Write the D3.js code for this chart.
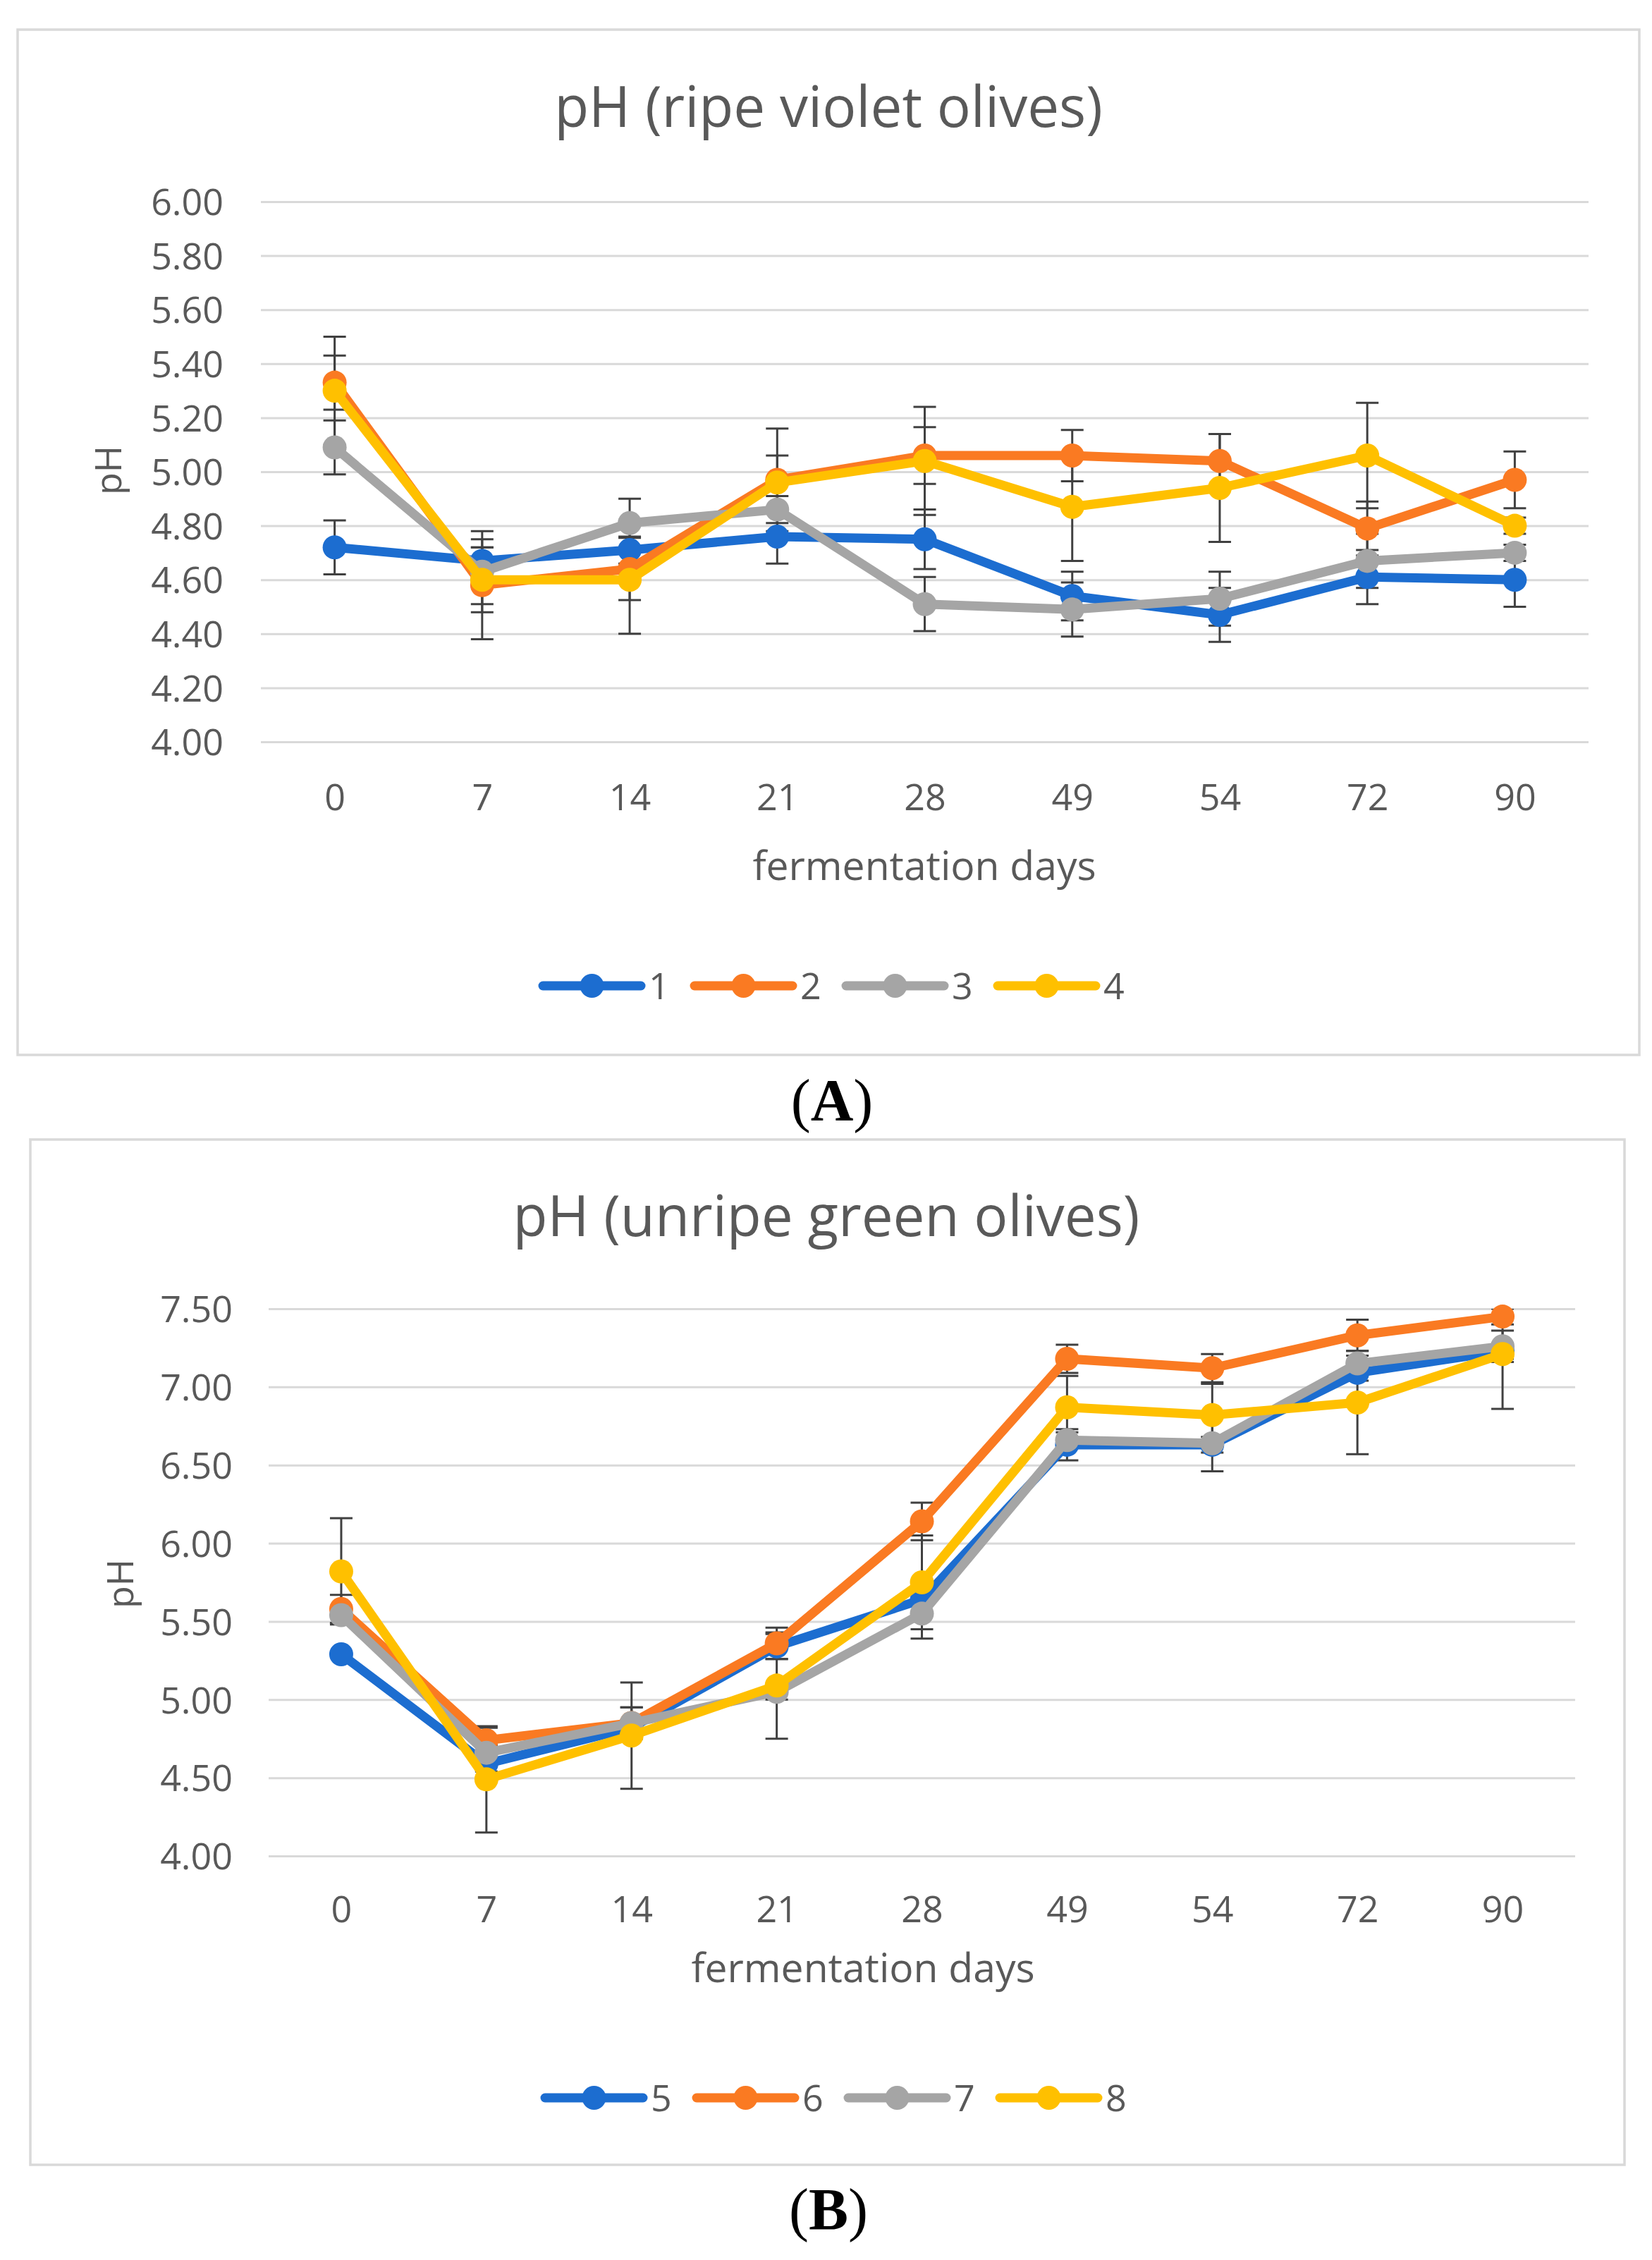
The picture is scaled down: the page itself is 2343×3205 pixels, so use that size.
<!DOCTYPE html>
<html><head><meta charset="utf-8">
<script src="https://cdn.jsdelivr.net/npm/d3@7/dist/d3.min.js"></script>
<style>body{margin:0;background:#fff}svg{display:block}</style>
</head><body><svg id="c" width="2343" height="3205"></svg>
<script>
// ---------- data ----------
const days = ["0","7","14","21","28","49","54","72","90"];
const yTicksA = [4.00,4.20,4.40,4.60,4.80,5.00,5.20,5.40,5.60,5.80,6.00];
const yTicksB = [4.00,4.50,5.00,5.50,6.00,6.50,7.00,7.50];
const namesA = ["1","2","3","4"];
const namesB = ["5","6","7","8"];
const colors = ["#1c6dd0","#fa7a22","#a5a5a5","#ffc000"];

const a1 = [4.72,4.67,4.71,4.76,4.75,4.54,4.47,4.61,4.60];
const a2 = [5.33,4.58,4.64,4.97,5.06,5.06,5.04,4.79,4.97];
const a3 = [5.09,4.63,4.81,4.86,4.51,4.49,4.53,4.67,4.70];
const a4 = [5.30,4.60,4.60,4.96,5.04,4.87,4.94,5.06,4.80];
const errA1 = [0.10,0.05,0.05,0.10,0.11,0.09,0.10,0.10,0.10];
const errA2 = [0.10,0.20,0.115,0.19,0.105,0.095,0.10,0.10,0.105];
const errA3 = [0.10,0.12,0.09,0.05,0.10,0.10,0.10,0.10,0.03];
const errA4 = [0.20,0.12,0.20,0.10,0.20,0.20,0.20,0.195,0.03];

const b5 = [5.29,4.59,4.82,5.34,5.64,6.63,6.63,7.09,7.23];
const b6 = [5.58,4.74,4.85,5.36,6.14,7.18,7.12,7.33,7.45];
const b7 = [5.54,4.66,4.85,5.05,5.55,6.66,6.64,7.15,7.26];
const b8 = [5.82,4.49,4.77,5.09,5.75,6.87,6.82,6.90,7.21];
const errB5 = [0.02,0.05,0.05,0.08,0.08,0.10,0.05,0.05,0.05];
const errB6 = [0.09,0.08,0.10,0.10,0.12,0.09,0.09,0.10,0.05];
const errB7 = [0.05,0.05,0.10,0.05,0.16,0.05,0.18,0.05,0.10];
const errB8 = [0.34,0.34,0.34,0.34,0.30,0.20,0.20,0.33,0.35];

// ---------- drawing ----------
const FONT = "'Open Sans', 'Segoe UI', sans-serif";
const TXT = "#595959";
const svg = d3.select("#c");

function panel(c) {
  const g = svg.append("g");
  g.append("rect").attr("x", c.box[0]).attr("y", c.box[1])
    .attr("width", c.box[2]).attr("height", c.box[3])
    .attr("fill", "#fff").attr("stroke", "#d9d9d9").attr("stroke-width", 3.5);

  const x = d3.scalePoint().domain(days).range([c.x0, c.x1]).padding(0.5);
  const y = d3.scaleLinear().domain(c.domain).range([c.yBot, c.yTop]);

  // y axis + gridlines
  const ya = d3.axisLeft(y).tickValues(c.ticks).tickFormat(d3.format(".2f"))
    .tickSizeInner(-(c.x1 - c.x0)).tickSizeOuter(0).tickPadding(c.x0 - c.labelRight);
  const yg = g.append("g").attr("transform", `translate(${c.x0},0)`).call(ya)
    .attr("font-family", FONT).attr("font-size", 52);
  yg.select(".domain").remove();
  yg.selectAll(".tick line").attr("stroke", "#d9d9d9").attr("stroke-width", 3);
  yg.selectAll(".tick text").attr("fill", TXT).attr("dy", "0.36em");

  // x axis labels
  const xa = d3.axisBottom(x).tickSize(0);
  const xg = g.append("g").attr("transform", `translate(0,${c.yBot})`).call(xa)
    .attr("font-family", FONT).attr("font-size", 52);
  xg.select(".domain").remove();
  xg.selectAll(".tick text").attr("fill", TXT).attr("y", c.xLabelBase - c.yBot).attr("dy", null);

  // error bars (clipped to plot area)
  const clipId = "clip" + c.id;
  svg.append("defs").append("clipPath").attr("id", clipId).append("rect")
    .attr("x", c.x0 - 60).attr("y", c.yTop).attr("width", c.x1 - c.x0 + 120).attr("height", c.yBot - c.yTop);
  const eg = g.append("g").attr("clip-path", `url(#${clipId})`)
    .attr("stroke", "#404040").attr("stroke-width", 3);
  c.series.forEach(s => {
    s.vals.forEach((v, i) => {
      const cx = x(days[i]), e = s.err[i];
      const yt = y(v + e), yb = y(v - e);
      eg.append("line").attr("x1", cx).attr("x2", cx).attr("y1", yt).attr("y2", yb);
      eg.append("line").attr("x1", cx - 16).attr("x2", cx + 16).attr("y1", yt).attr("y2", yt);
      eg.append("line").attr("x1", cx - 16).attr("x2", cx + 16).attr("y1", yb).attr("y2", yb);
    });
  });

  // lines and markers
  const line = d3.line().x((d, i) => x(days[i])).y(d => y(d));
  c.series.forEach((s, k) => {
    g.append("path").datum(s.vals).attr("d", line).attr("fill", "none")
      .attr("stroke", colors[k]).attr("stroke-width", 13)
      .attr("stroke-linejoin", "round").attr("stroke-linecap", "round");
    g.append("g").selectAll("circle").data(s.vals).join("circle")
      .attr("cx", (d, i) => x(days[i])).attr("cy", d => y(d)).attr("r", 17)
      .attr("fill", colors[k]);
  });

  // title
  g.append("text").attr("x", c.titleX).attr("y", c.titleY).attr("text-anchor", "middle")
    .attr("font-family", FONT).attr("font-size", 80).attr("fill", TXT).text(c.title);
  // y axis title
  g.append("text").attr("transform", `translate(${c.yTitleX},${c.yTitleY}) rotate(-90)`)
    .attr("text-anchor", "middle").attr("font-family", FONT).attr("font-size", 52)
    .attr("fill", TXT).text("pH");
  // x axis title
  g.append("text").attr("x", c.xTitleX).attr("y", c.xTitleY).attr("text-anchor", "middle")
    .attr("font-family", FONT).attr("font-size", 57).attr("fill", TXT).text("fermentation days");

  // legend
  const lg = g.append("g");
  c.names.forEach((n, k) => {
    const lx = c.legX + k * 215;
    lg.append("line").attr("x1", lx).attr("x2", lx + 139).attr("y1", c.legY).attr("y2", c.legY)
      .attr("stroke", colors[k]).attr("stroke-width", 13).attr("stroke-linecap", "round");
    lg.append("circle").attr("cx", lx + 69.5).attr("cy", c.legY).attr("r", 17).attr("fill", colors[k]);
    lg.append("text").attr("x", lx + 150).attr("y", c.legY + 19)
      .attr("font-family", FONT).attr("font-size", 52).attr("fill", TXT).text(n);
  });

  // caption
  const cap = svg.append("text").attr("x", c.capX).attr("y", c.capY).attr("text-anchor", "middle")
    .attr("font-family", "'Liberation Serif', 'Times New Roman', serif").attr("font-size", 84).attr("fill", "#000");
  cap.append("tspan").text("(");
  cap.append("tspan").attr("font-weight", "bold").text(c.caption);
  cap.append("tspan").text(")");
}

panel({
  id: "A", box: [25, 42, 2300, 1454],
  x0: 370, x1: 2253, yTop: 286, yBot: 1052, domain: [4, 6], ticks: yTicksA, labelRight: 317,
  xLabelBase: 1149, title: "pH (ripe violet olives)", titleX: 1175, titleY: 180,
  yTitleX: 172, yTitleY: 667, xTitleX: 1311, xTitleY: 1248,
  legX: 770, legY: 1398, names: namesA,
  series: [{vals: a1, err: errA1}, {vals: a2, err: errA2}, {vals: a3, err: errA3}, {vals: a4, err: errA4}],
  capX: 1180, capY: 1589, caption: "A"
});

panel({
  id: "B", box: [43, 1616, 2261, 1454],
  x0: 381, x1: 2234, yTop: 1856, yBot: 2632, domain: [4, 7.5], ticks: yTicksB, labelRight: 330,
  xLabelBase: 2726, title: "pH (unripe green olives)", titleX: 1172, titleY: 1753,
  yTitleX: 189, yTitleY: 2246, xTitleX: 1224, xTitleY: 2811,
  legX: 773, legY: 2975, names: namesB,
  series: [{vals: b5, err: errB5}, {vals: b6, err: errB6}, {vals: b7, err: errB7}, {vals: b8, err: errB8}],
  capX: 1175, capY: 3162, caption: "B"
});
</script></body></html>
